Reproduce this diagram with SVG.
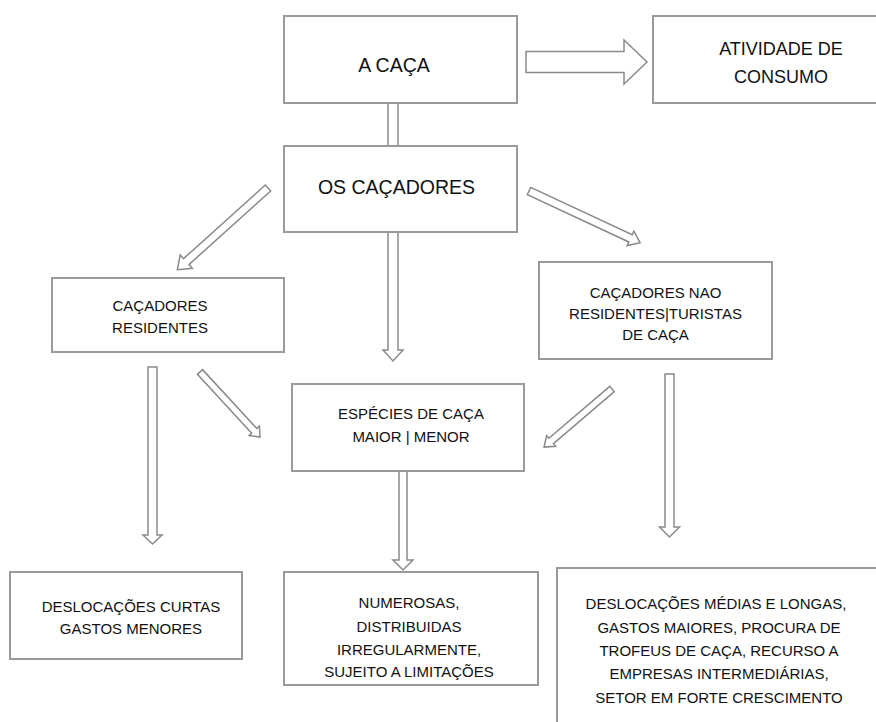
<svg xmlns="http://www.w3.org/2000/svg" width="876" height="722" viewBox="0 0 876 722">
<style>
.box{fill:#fff;stroke:#9a9a9a;stroke-width:2}
.arr{fill:#fff;stroke:#8a8a8a;stroke-width:1.5;stroke-linejoin:miter}
text{font-family:"Liberation Sans",Arial,sans-serif;fill:#111;text-anchor:middle}
.big{font-size:19.5px}
.med{font-size:18px}
.sm{font-size:15px}
</style>
<rect width="876" height="722" fill="#fff"/>
<g id="connectors">
<path class="arr" d="M0,-10.5 L98,-10.5 L98,-22 L121,0 L98,22 L98,10.5 L0,10.5 Z" transform="translate(526,62)"/>
<rect class="arr" x="388" y="103" width="10" height="43"/>
<path class="arr" d="M0,-5 L118,-5 L118,-10 L129,0 L118,10 L118,5 L0,5 Z" transform="translate(393,232) rotate(90)"/>
<path class="arr" d="M0,-4 L110,-4 L110,-9 L122,0 L110,9 L110,4 L0,4 Z" transform="translate(268,188) rotate(138)"/>
<path class="arr" d="M0,-4 L112,-4 L112,-8 L122.6,0 L112,8 L112,4 L0,4 Z" transform="translate(529,191) rotate(25)"/>
<path class="arr" d="M0,-4.5 L168,-4.5 L168,-9.5 L177,0 L168,9.5 L168,4.5 L0,4.5 Z" transform="translate(152.5,367) rotate(90)"/>
<path class="arr" d="M0,-3.5 L80,-3.5 L80,-7 L88.5,0 L80,7 L80,3.5 L0,3.5 Z" transform="translate(200,372) rotate(47.3)"/>
<path class="arr" d="M0,-4 L89,-4 L89,-10 L99,0 L89,10 L89,4 L0,4 Z" transform="translate(403,471) rotate(90)"/>
<path class="arr" d="M0,-3.5 L80,-3.5 L80,-7 L89.4,0 L80,7 L80,3.5 L0,3.5 Z" transform="translate(612,389) rotate(139.5)"/>
<path class="arr" d="M0,-4.5 L153,-4.5 L153,-10 L163,0 L153,10 L153,4.5 L0,4.5 Z" transform="translate(669.5,374) rotate(90)"/>
</g>
<g id="a-caca">
<rect class="box" x="284" y="16" width="233" height="87"/>
<text class="big" x="394" y="72">A CAÇA</text>
</g>
<g id="atividade">
<rect class="box" x="653" y="16" width="260" height="87"/>
<text class="med" x="781" y="55">ATIVIDADE DE</text>
<text class="med" x="781" y="83">CONSUMO</text>
</g>
<g id="os-cacadores">
<rect class="box" x="284" y="146" width="233" height="86"/>
<text class="big" x="396.5" y="194">OS CAÇADORES</text>
</g>
<g id="residentes">
<rect class="box" x="52" y="278" width="232" height="74"/>
<text class="sm" x="160" y="311">CAÇADORES</text>
<text class="sm" x="160" y="333">RESIDENTES</text>
</g>
<g id="nao-residentes">
<rect class="box" x="539" y="262" width="233" height="97"/>
<text class="sm" x="655.5" y="298">CAÇADORES NAO</text>
<text class="sm" x="655.5" y="319">RESIDENTES|TURISTAS</text>
<text class="sm" x="655.5" y="340">DE CAÇA</text>
</g>
<g id="especies">
<rect class="box" x="292" y="384" width="232" height="87"/>
<text class="sm" x="411" y="419">ESPÉCIES DE CAÇA</text>
<text class="sm" x="411" y="442">MAIOR | MENOR</text>
</g>
<g id="deslocacoes-curtas">
<rect class="box" x="10" y="572" width="232" height="87"/>
<text class="sm" x="131" y="612">DESLOCAÇÕES CURTAS</text>
<text class="sm" x="131" y="634">GASTOS MENORES</text>
</g>
<g id="numerosas">
<rect class="box" x="284" y="572" width="254" height="113"/>
<text class="sm" x="409" y="608">NUMEROSAS,</text>
<text class="sm" x="409" y="632">DISTRIBUIDAS</text>
<text class="sm" x="409" y="655">IRREGULARMENTE,</text>
<text class="sm" x="409" y="677">SUJEITO A LIMITAÇÕES</text>
</g>
<g id="deslocacoes-medias">
<rect class="box" x="557" y="568" width="360" height="180"/>
<text class="sm" x="716" y="609">DESLOCAÇÕES MÉDIAS E LONGAS,</text>
<text class="sm" x="719" y="633">GASTOS MAIORES, PROCURA DE</text>
<text class="sm" x="719" y="656">TROFEUS DE CAÇA, RECURSO A</text>
<text class="sm" x="719" y="679">EMPRESAS INTERMEDIÁRIAS,</text>
<text class="sm" x="719" y="703">SETOR EM FORTE CRESCIMENTO</text>
</g>
</svg>
